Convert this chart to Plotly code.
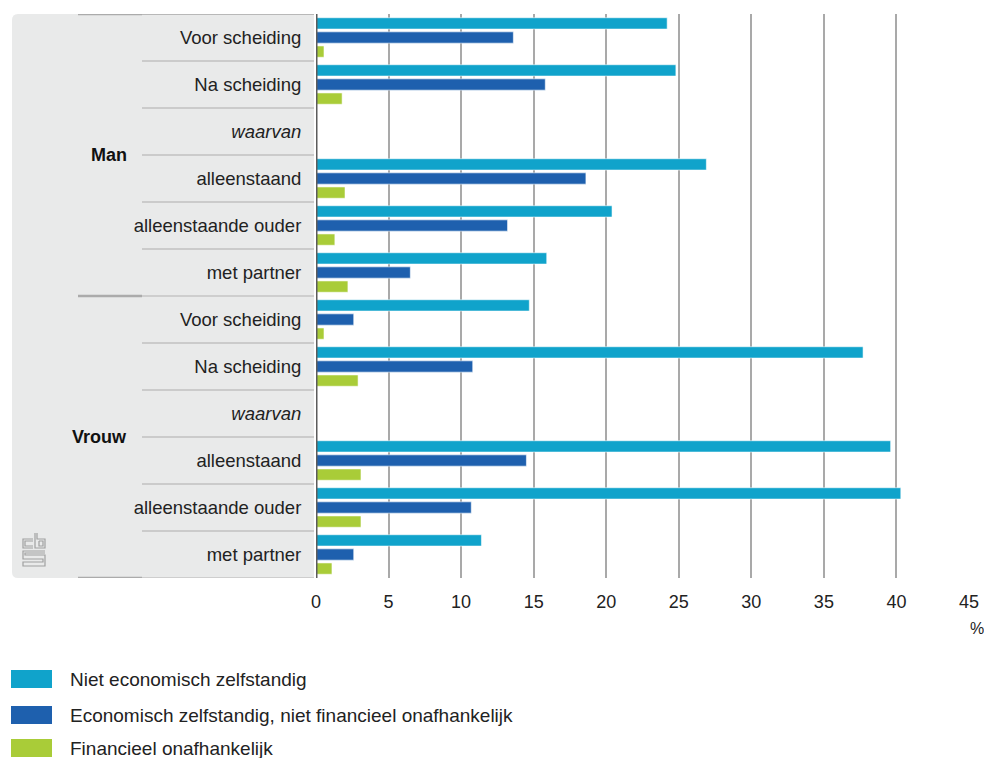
import plotly.graph_objects as go

# ---------------- data ----------------
categories = ["Voor scheiding", "Na scheiding", "<i>waarvan</i>", "alleenstaand",
              "alleenstaande ouder", "met partner",
              "Voor scheiding", "Na scheiding", "<i>waarvan</i>", "alleenstaand",
              "alleenstaande ouder", "met partner"]
groups = ["Man", "Vrouw"]
series_names = ["Niet economisch zelfstandig",
                "Economisch zelfstandig, niet financieel onafhankelijk",
                "Financieel onafhankelijk"]
niet_econ = [24.2, 24.8, None, 26.9, 20.4, 15.9, 14.7, 37.7, None, 39.6, 40.3, 11.4]
econ_niet_fin = [13.6, 15.8, None, 18.6, 13.2, 6.5, 2.6, 10.8, None, 14.5, 10.7, 2.6]
fin_onafh = [0.55, 1.8, None, 2.0, 1.3, 2.2, 0.55, 2.9, None, 3.1, 3.1, 1.1]
x_ticks = [0, 5, 10, 15, 20, 25, 30, 35, 40, 45]
unit_label = "%"

colors = ["#10a3cb", "#1e60ae", "#a9cc38"]
values = [niet_econ, econ_niet_fin, fin_onafh]

# ---------------- geometry (page pixels) ----------------
OFF = 8                      # page body margin
PAGE_W, PAGE_H = 992, 758
W, H = PAGE_W - OFF, PAGE_H - OFF
L, R, T, B = 316, 969, 14, 578


def px(x):
    return (x - L) / (R - L)


def py(y):
    return (B - y) / (B - T)


rows = list(range(len(categories)))

fig = go.Figure()
for name, vals, col in zip(series_names, values, colors):
    fig.add_trace(go.Bar(
        y=rows, x=vals, orientation="h", name=name,
        marker=dict(color=col, line=dict(color="rgba(255,255,255,0.55)", width=1)),
        showlegend=False, hoverinfo="x+name"))

shapes = []
# grey left panel with rounded left corners
x0, x1, y0, y1, r = px(12), px(314), py(14), py(578), 6
rx, ry = r / (R - L), r / (B - T)
shapes.append(dict(
    type="path", xref="paper", yref="paper", layer="below",
    path=(f"M {x1},{y0} L {x0+rx},{y0} Q {x0},{y0} {x0},{y0-ry} "
          f"L {x0},{y1+ry} Q {x0},{y1} {x0+rx},{y1} L {x1},{y1} Z"),
    fillcolor="#e9eaea", line=dict(width=0)))

n = len(categories)
half = n // 2
for b in range(n + 1):
    yv = b - 0.5
    if b in (0, half, n):
        shapes.append(dict(type="line", xref="paper", yref="y", x0=px(78), x1=px(142),
                           y0=yv, y1=yv, line=dict(color="#ababab", width=2.5)))
        shapes.append(dict(type="line", xref="paper", yref="y", x0=px(142), x1=px(314),
                           y0=yv, y1=yv,
                           line=dict(color="#b8b8b8" if b == 0 else "#c4c4c4",
                                     width=2 if b == 0 else 1.5)))
    else:
        shapes.append(dict(type="line", xref="paper", yref="y", x0=px(142), x1=px(314),
                           y0=yv, y1=yv, line=dict(color="#c0c0c0", width=1.5)))

# axis line at zero
shapes.append(dict(type="line", xref="x", yref="paper", x0=0, x1=0, y0=0, y1=1,
                   line=dict(color="#5c5c5c", width=3)))

# cbs logo (approximation)
logo_col = "#a0a0a0"
logo_paths = [
    [(33, 539), (23, 539), (23, 548), (33, 548)],
    [(33, 541), (25, 541), (25, 546), (33, 546)],
    [(35, 533), (35, 548), (45, 548), (45, 539), (37, 539), (37, 533)],
    [(39, 541), (43, 541), (43, 546), (39, 546), (39, 541)],
    [(45, 551), (23, 551), (23, 559), (43, 559), (43, 562), (23, 562), (23, 566), (45, 566),
     (45, 555), (25, 555), (25, 553), (45, 553)],
]
for pts in logo_paths:
    path = "M " + " L ".join(f"{px(a)},{py(b)}" for a, b in pts)
    shapes.append(dict(type="path", xref="paper", yref="paper", path=path,
                       line=dict(color=logo_col, width=1.2)))

annotations = []
for gi, g in enumerate(groups):
    annotations.append(dict(text=f"<b>{g}</b>", xref="paper", yref="y",
                            x=px(129), y=gi * half + 2.5, xanchor="right", yanchor="middle",
                            showarrow=False, font=dict(size=18, color="#111")))
annotations.append(dict(text=unit_label, xref="paper", yref="paper", x=px(986), y=py(628),
                        xanchor="right", yanchor="middle", showarrow=False,
                        font=dict(size=16, color="#222")))

# custom legend
leg_y = [679, 715, 748]
for name, col, yy in zip(series_names, colors, leg_y):
    shapes.append(dict(type="rect", xref="paper", yref="paper",
                       x0=px(11), x1=px(52), y0=py(yy - 9), y1=py(yy + 9),
                       fillcolor=col, line=dict(width=0)))
    annotations.append(dict(text=name, xref="paper", yref="paper", x=px(68), y=py(yy),
                            xanchor="left", yanchor="middle", showarrow=False,
                            font=dict(size=19, color="#222")))

fig.update_layout(
    width=W, height=H,
    margin=dict(l=L - OFF, r=PAGE_W - R, t=T - OFF, b=PAGE_H - B, pad=0),
    paper_bgcolor="white", plot_bgcolor="white",
    barmode="group", bargap=0.1, bargroupgap=0.2,
    font=dict(family="Liberation Sans, Arial, sans-serif", color="#222"),
    shapes=shapes, annotations=annotations,
    xaxis=dict(range=[0, 45], tickvals=x_ticks, showgrid=True, gridcolor="#a9a9a9",
               gridwidth=2, zeroline=False, showline=False, ticks="",
               tickfont=dict(size=18, color="#222"), fixedrange=True),
    yaxis=dict(range=[n - 0.5, -0.5], tickvals=rows, ticktext=categories,
               showgrid=False, zeroline=False, showline=False,
               ticks="outside", ticklen=10, tickcolor="rgba(0,0,0,0)",
               tickfont=dict(size=18.5, color="#222"), fixedrange=True),
)
fig.update_xaxes(ticklabelstandoff=11)

fig.write_html("out.html")
